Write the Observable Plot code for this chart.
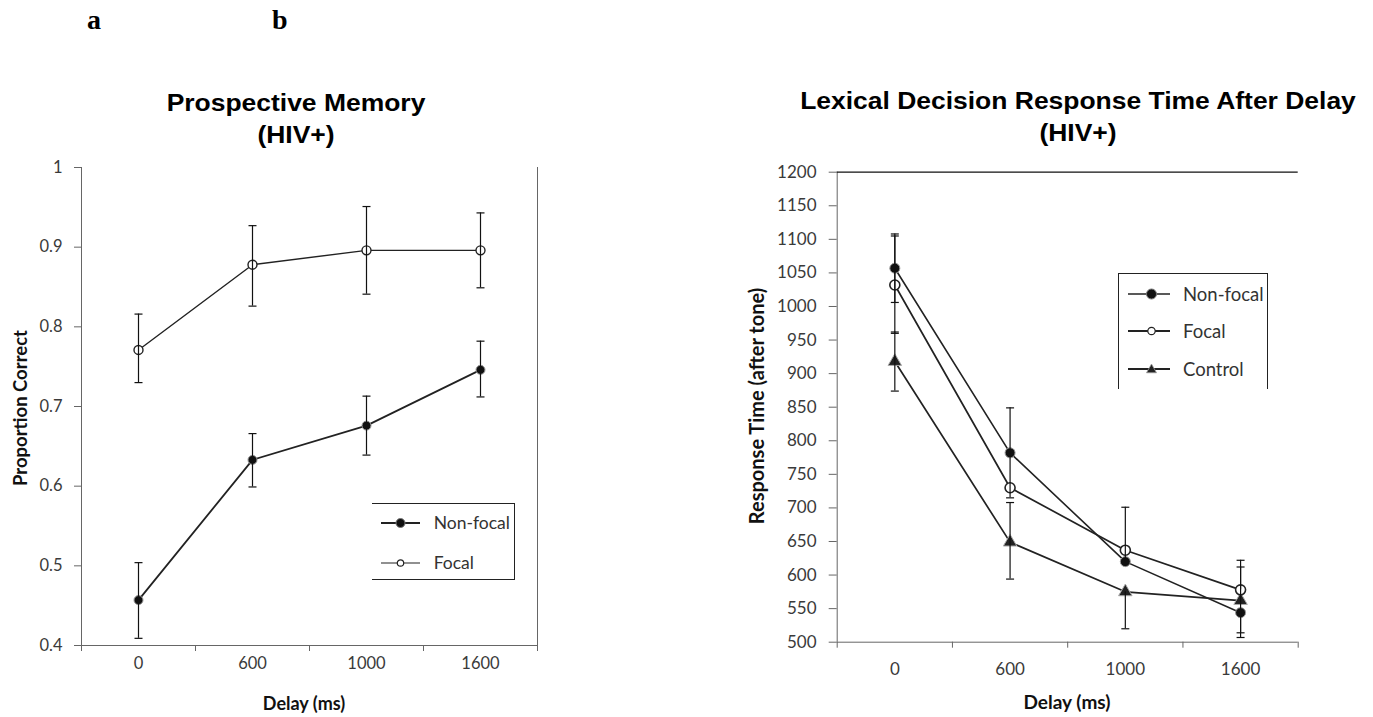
<!DOCTYPE html>
<html><head><meta charset="utf-8">
<script src="https://cdn.jsdelivr.net/npm/d3@7"></script>
<script src="https://cdn.jsdelivr.net/npm/@observablehq/plot@0.6"></script>
<style>
body{margin:0;background:#fff;width:1373px;height:717px;position:relative;overflow:hidden;font-family:Lato,sans-serif}
.abs{position:absolute}
.title{font-family:"Liberation Sans",Arial,sans-serif;font-weight:bold;text-align:center;color:#000;white-space:nowrap;z-index:2;transform:scaleX(1.15);transform-origin:center top}
.panel{font-family:"Liberation Serif","Times New Roman",serif;font-weight:bold;font-size:28px;line-height:32px;color:#000;z-index:2}
.atitle{font-family:Lato,sans-serif;font-weight:bold;color:#111;white-space:nowrap;z-index:2;text-align:center;width:300px;line-height:20px}
.legend{z-index:2;border-color:#222;border-style:solid;box-sizing:border-box}
.legend .item{position:absolute;font-family:Lato,sans-serif;color:#333;white-space:nowrap}
svg.plot{position:absolute;top:0;z-index:1}
</style></head><body>
<div id="root"></div>
<script>
// ---------- data ----------
const delays = ["0", "600", "1000", "1600"];

// Panel a: Prospective Memory (HIV+)
const pmNonFocal     = [0.457, 0.633, 0.676, 0.746];
const pmNonFocalLow  = [0.409, 0.599, 0.639, 0.712];
const pmNonFocalHigh = [0.504, 0.666, 0.713, 0.782];
const pmFocal        = [0.771, 0.878, 0.896, 0.896];
const pmFocalLow     = [0.730, 0.826, 0.841, 0.849];
const pmFocalHigh    = [0.816, 0.927, 0.951, 0.943];
const pmTicks = [0.4, 0.5, 0.6, 0.7, 0.8, 0.9, 1];

// Panel b: Lexical Decision Response Time After Delay (HIV+)
const rtNonFocal     = [1057, 782, 620, 544];
const rtNonFocalLow  = [1006, 715, 620, 507];
const rtNonFocalHigh = [1108, 849, 701, 544];
const rtFocal        = [1032, 730, 637, 578];
const rtFocalLow     = [960, 730, 637, 578];
const rtFocalHigh    = [1105, 730, 637, 622];
const rtControl      = [918, 649, 575, 562];
const rtControlLow   = [874, 594, 520, 514];
const rtControlHigh  = [962, 708, 575, 612];
const rtTicks = [500, 550, 600, 650, 700, 750, 800, 850, 900, 950, 1000, 1050, 1100, 1150, 1200];

// ---------- helpers ----------
function rowsOf(series, vals, lows, highs) {
  return delays.map((d, i) => ({series, i, delay: d, value: vals[i], low: lows[i], high: highs[i]}));
}
const capSymbol = {draw(ctx, size) { const r = Math.sqrt(size / Math.PI); ctx.moveTo(-r, 0); ctx.lineTo(r, 0); }};
const boundaries = [-0.5, 0.5, 1.5, 2.5, 3.5];
const centers = delays.map((d, i) => i);

function errorMarks(rows) {
  const lowCaps = rows.filter(d => d.low < d.value);
  const highCaps = rows.filter(d => d.high > d.value);
  return [
    Plot.ruleX(rows.filter(d => d.high > d.low), {x: "i", y1: "low", y2: "high", stroke: "#111", strokeWidth: 1.2}),
    Plot.dot(lowCaps, {x: "i", y: "low", symbol: capSymbol, r: 4, stroke: "#111", strokeWidth: 1.2}),
    Plot.dot(highCaps, {x: "i", y: "high", symbol: capSymbol, r: 4, stroke: "#111", strokeWidth: 1.2})
  ];
}

const root = document.getElementById("root");

// ---------- panel a ----------
const aNon = rowsOf("Non-focal", pmNonFocal, pmNonFocalLow, pmNonFocalHigh);
const aFoc = rowsOf("Focal", pmFocal, pmFocalLow, pmFocalHigh);
const plotA = Plot.plot({
  width: 560, height: 717,
  marginLeft: 81, marginRight: 23, marginTop: 167, marginBottom: 72,
  style: {fontFamily: "Lato, sans-serif", fontSize: "16.5px", color: "#3a3a3a", background: "transparent", overflow: "visible"},
  x: {domain: [-0.5, 3.5], label: null},
  y: {domain: [0.4, 1], label: null},
  marks: [
    Plot.ruleX([-0.5, 3.5], {stroke: "#666", strokeWidth: 1}),
    Plot.ruleY([0.4], {stroke: "#666", strokeWidth: 1}),
    Plot.axisX({ticks: boundaries, tickSize: 6, tickFormat: () => "", stroke: "#666", label: null}),
    Plot.axisX({ticks: centers, tickSize: 0, tickPadding: 12, tickFormat: i => delays[i], label: null}),
    Plot.axisY({ticks: pmTicks, tickSize: 7, tickPadding: 12, stroke: "#666", tickFormat: d => String(d), label: null}),
    Plot.line(aFoc, {x: "i", y: "value", stroke: "#222", strokeWidth: 1.4}),
    Plot.line(aNon, {x: "i", y: "value", stroke: "#222", strokeWidth: 1.8}),
    Plot.dot(aNon, {x: "i", y: "value", r: 4.5, fill: "#111", stroke: "#999", strokeWidth: 1}),
    Plot.dot(aFoc, {x: "i", y: "value", r: 4.5, fill: "#fff", stroke: "#222", strokeWidth: 1.4}),
    ...errorMarks(aNon),
    ...errorMarks(aFoc)
  ]
});
plotA.classList.add("plot");
plotA.style.left = "0px";
root.appendChild(plotA);

// ---------- panel b ----------
const bNon = rowsOf("Non-focal", rtNonFocal, rtNonFocalLow, rtNonFocalHigh);
const bFoc = rowsOf("Focal", rtFocal, rtFocalLow, rtFocalHigh);
const bCon = rowsOf("Control", rtControl, rtControlLow, rtControlHigh);
const plotB = Plot.plot({
  width: 673, height: 717,
  marginLeft: 136.7, marginRight: 75.3, marginTop: 171.7, marginBottom: 75.3,
  style: {fontFamily: "Lato, sans-serif", fontSize: "17px", color: "#3a3a3a", background: "transparent", overflow: "visible"},
  x: {domain: [-0.5, 3.5], label: null},
  y: {domain: [500, 1200], label: null},
  marks: [
    Plot.ruleX([-0.5], {stroke: "#666", strokeWidth: 1}),
    Plot.ruleY([500], {stroke: "#666", strokeWidth: 1}),
    Plot.ruleY([1200], {stroke: "#111", strokeWidth: 1.3}),
    Plot.axisX({ticks: boundaries, tickSize: 6, tickFormat: () => "", stroke: "#666", label: null}),
    Plot.axisX({ticks: centers, tickSize: 0, tickPadding: 21, tickFormat: i => delays[i], label: null}),
    Plot.axisY({ticks: rtTicks, tickSize: 8, tickPadding: 12.7, stroke: "#666", tickFormat: d => String(d), label: null}),
    Plot.line(bCon, {x: "i", y: "value", stroke: "#222", strokeWidth: 1.7}),
    Plot.line(bFoc, {x: "i", y: "value", stroke: "#222", strokeWidth: 1.7}),
    Plot.line(bNon, {x: "i", y: "value", stroke: "#222", strokeWidth: 1.6}),
    Plot.dot(bCon, {x: "i", y: "value", r: 5, symbol: "triangle", fill: "#222", stroke: "#aaa", strokeWidth: 1}),
    Plot.dot(bNon, {x: "i", y: "value", r: 5, fill: "#111", stroke: "#999", strokeWidth: 1}),
    Plot.dot(bFoc, {x: "i", y: "value", r: 5, fill: "#fff", stroke: "#222", strokeWidth: 1.6}),
    ...errorMarks(bNon),
    ...errorMarks(bFoc),
    ...errorMarks(bCon)
  ]
});
plotB.classList.add("plot");
plotB.style.left = "700px";
root.appendChild(plotB);

// ---------- text & legends ----------
function addDiv(cls, text, css) {
  const d = document.createElement("div");
  d.className = "abs " + cls;
  if (text != null) d.textContent = text;
  Object.assign(d.style, css);
  document.body.appendChild(d);
  return d;
}
addDiv("panel", "a", {left: "87px", top: "4px"});
addDiv("panel", "b", {left: "272px", top: "4px"});
const tA = addDiv("title", null, {left: "96px", width: "400px", top: "87px", fontSize: "23px", lineHeight: "32px"});
tA.innerHTML = "Prospective Memory<br>(HIV+)";
const tB = addDiv("title", null, {left: "778px", width: "600px", top: "85px", fontSize: "23px", lineHeight: "32px"});
tB.innerHTML = "Lexical Decision Response Time After Delay<br>(HIV+)";

addDiv("atitle", "Delay (ms)", {left: "154px", top: "693px", fontSize: "18px"});
addDiv("atitle", "Delay (ms)", {left: "917px", top: "692px", fontSize: "19px"});
addDiv("atitle", "Proportion Correct", {left: "-130px", top: "398px", fontSize: "18.5px", transform: "rotate(-90deg)"});
addDiv("atitle", "Response Time (after tone)", {left: "606px", top: "396px", fontSize: "20px", transform: "rotate(-90deg)"});

const swatchWidths = {"Non-focal": null, "Focal": null, "Control": null};
function swatch(kind, box) {
  const cx = box.marker, w = box.line, sw = box.widths[kind];
  let m = "";
  if (kind === "Non-focal") m = `<circle cx="${cx}" cy="10" r="${box.r}" fill="#111" stroke="#777" stroke-width="1"/>`;
  else if (kind === "Focal") m = `<circle cx="${cx}" cy="10" r="${box.r - 1.3}" fill="#fff" stroke="#222" stroke-width="1.2"/>`;
  else m = `<path d="M${cx},${10 - box.r} L${cx + box.r},${10 + box.r * 0.75} L${cx - box.r},${10 + box.r * 0.75} Z" fill="#222" stroke="#999" stroke-width="0.8"/>`;
  return `<svg width="${w + 2}" height="20" style="position:absolute;left:0;top:0"><line x1="0" y1="10" x2="${w}" y2="10" stroke="#222" stroke-width="${sw}"/>${m}</svg>`;
}
function legend(box, items) {
  const lg = addDiv("legend", null, box.css);
  items.forEach((name, k) => {
    const it = document.createElement("div");
    it.className = "item";
    it.style.left = box.itemLeft + "px";
    it.style.top = (box.firstY + k * box.step - 10) + "px";
    it.style.fontSize = box.fontSize;
    it.innerHTML = swatch(name, box) + `<span style="position:absolute;left:${box.textLeft}px;top:0;line-height:20px">${name}</span>`;
    lg.appendChild(it);
  });
}
legend({css: {left: "371.7px", top: "503.3px", width: "143px", height: "77px", borderWidth: "1px 1px 1px 0"},
        itemLeft: 9, firstY: 19, step: 40, textLeft: 53, line: 39, marker: 19.5, r: 4.5, fontSize: "17.5px",
        widths: {"Non-focal": 2.2, "Focal": 1.2}}, ["Non-focal", "Focal"]);
legend({css: {left: "1118px", top: "272.7px", width: "150px", height: "116px", borderWidth: "1px 1px 0 1px"},
        itemLeft: 8.5, firstY: 20, step: 37.8, textLeft: 55.5, line: 42, marker: 23.5, r: 5, fontSize: "18.5px",
        widths: {"Non-focal": 1.3, "Focal": 2, "Control": 2}}, ["Non-focal", "Focal", "Control"]);
</script>
</body></html>
